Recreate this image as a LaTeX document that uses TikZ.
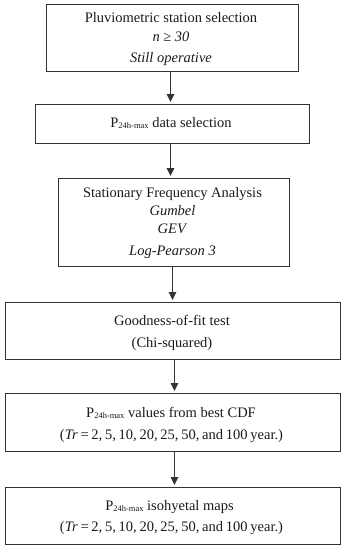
\documentclass[tikz,border=0pt]{standalone}
\usepackage{fontspec}
\setmainfont{Liberation Serif}
\usetikzlibrary{arrows.meta}
\definecolor{linegray}{HTML}{333333}
\definecolor{textdark}{HTML}{1A1A1A}
\newcommand{\subtxt}[1]{\raisebox{-1pt}{\fontsize{8.5}{10}\selectfont #1}}
\newcommand{\tightsp}{\spaceskip=0.19em plus 0.05em\relax}
\begin{document}
\begin{tikzpicture}[x=1pt,y=-1pt,
  boxst/.style={draw=linegray, line width=1.15pt, rectangle, inner sep=0pt, anchor=north west},
  txt/.style={anchor=base, inner sep=0pt, text=textdark, font=\fontsize{14.5}{16}\selectfont},
  arr/.style={draw=linegray, line width=1.15pt, shorten >=1.5pt, -{Triangle[width=7.5pt,length=8pt]}}]
\useasboundingbox (0,0) rectangle (342,550);
% boxes
\node[boxst, minimum width=252pt, minimum height=67pt] (b1) at (45.5,3.5) {};
\node[boxst, minimum width=274pt, minimum height=39pt] (b2) at (34.5,103.5) {};
\node[boxst, minimum width=231pt, minimum height=88pt] (b3) at (57.5,177.5) {};
\node[boxst, minimum width=335pt, minimum height=57pt] (b4) at (4.5,301.5) {};
\node[boxst, minimum width=335pt, minimum height=58pt] (b5) at (4.5,392.5) {};
\node[boxst, minimum width=335pt, minimum height=57pt] (b6) at (4.5,486.5) {};
% texts
\node[txt] (t11) at (171,22.5) {Pluviometric station selection};
\node[txt] (t12) at (171,41) {\textit{n} ≥ \textit{30}};
\node[txt] (t13) at (171,62.5) {\textit{Still operative}};
\node[txt] (t21) at (171,127) {P\subtxt{24h-max} data selection};
\node[txt] (t31) at (172.5,197.5) {Stationary Frequency Analysis};
\node[txt] (t32) at (172.5,215) {\textit{Gumbel}};
\node[txt] (t33) at (172.5,233.5) {\textit{GEV}};
\node[txt] (t34) at (172.5,255) {\textit{Log-Pearson 3}};
\node[txt] (t41) at (172,325) {Goodness-of-fit test};
\node[txt] (t42) at (172,347) {(Chi-squared)};
\node[txt] (t51) at (171,417) {P\subtxt{24h-max} values from best CDF};
\node[txt] (t52) at (171.5,439) {\tightsp(\textit{Tr} = 2, 5, 10, 20, 25, 50, and 100 year.)};
\node[txt] (t61) at (169.5,510) {P\subtxt{24h-max} isohyetal maps};
\node[txt] (t62) at (171.5,531.5) {\tightsp(\textit{Tr} = 2, 5, 10, 20, 25, 50, and 100 year.)};
% arrow x positions
\coordinate (ax1) at (170.5,0);
\coordinate (ax3) at (172.5,0);
\coordinate (ax4) at (174.5,0);
% arrows
\draw[arr] (b1.south -| ax1) -- (b2.north -| ax1);
\draw[arr] (b2.south -| ax1) -- (b3.north -| ax1);
\draw[arr] (b3.south -| ax3) -- (b4.north -| ax3);
\draw[arr] (b4.south -| ax4) -- (b5.north -| ax4);
\draw[arr] (b5.south -| ax4) -- (b6.north -| ax4);
\end{tikzpicture}
\end{document}
